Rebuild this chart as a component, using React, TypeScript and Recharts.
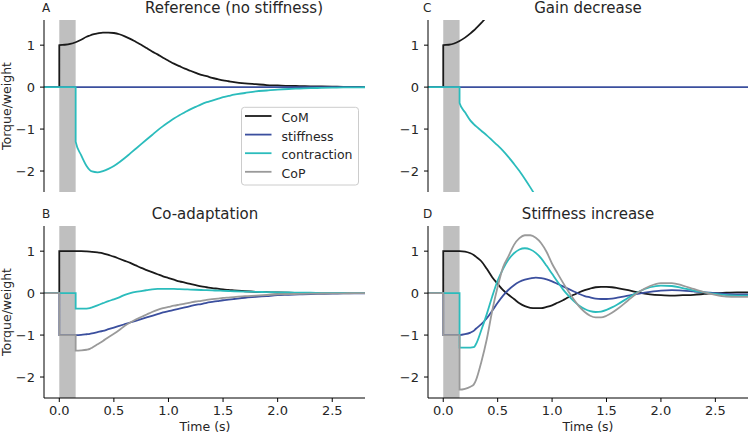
import { LineChart, Line, XAxis, YAxis, ReferenceArea } from "recharts";

// shared time grid (s); repeated 0 and 0.15 give the vertical steps
const T = [
  -0.14, 0, 0, 0.05, 0.1, 0.15, 0.15, 0.2, 0.25, 0.28, 0.3, 0.35, 0.4, 0.45, 0.5, 0.55, 0.6,
  0.65, 0.7, 0.75, 0.8, 0.85, 0.9, 0.95, 1.0, 1.05, 1.1, 1.15, 1.2, 1.25, 1.3, 1.35, 1.4, 1.45,
  1.5, 1.55, 1.6, 1.7, 1.8, 1.9, 2.0, 2.1, 2.2, 2.3, 2.4, 2.5, 2.6, 2.7, 2.8,
];

const ZERO = [
  0, 0, 0, 0, 0, 0, 0, 0, 0, 0, 0, 0, 0, 0, 0, 0, 0, 0, 0, 0, 0, 0, 0, 0, 0, 0, 0, 0, 0, 0, 0,
  0, 0, 0, 0, 0, 0, 0, 0, 0, 0, 0, 0, 0, 0, 0, 0, 0, 0,
];

// A - Reference (no stiffness)
const A_COM = [
  0, 0, 1.0, 1.01, 1.03, 1.07, 1.07, 1.13, 1.2, 1.23, 1.25, 1.28, 1.3, 1.3, 1.29, 1.26, 1.21,
  1.15, 1.08, 1.01, 0.93, 0.85, 0.78, 0.7, 0.63, 0.56, 0.5, 0.44, 0.39, 0.34, 0.29, 0.26, 0.22,
  0.19, 0.16, 0.14, 0.12, 0.09, 0.07, 0.05, 0.04, 0.03, 0.025, 0.02, 0.015, 0.01, 0.008, 0.006,
  0.005,
];
const A_CONTR = [
  0, 0, 0, 0, 0, 0, -1.3, -1.62, -1.88, -1.98, -2.01, -2.03, -2.0, -1.95, -1.88, -1.79, -1.69,
  -1.58, -1.47, -1.36, -1.25, -1.14, -1.03, -0.93, -0.84, -0.75, -0.67, -0.6, -0.53, -0.47,
  -0.41, -0.36, -0.32, -0.28, -0.24, -0.21, -0.18, -0.14, -0.1, -0.08, -0.06, -0.045, -0.035,
  -0.025, -0.018, -0.012, -0.008, -0.005, -0.003,
];

// B - Co-adaptation
const B_COM = [
  0, 0, 1.0, 1.0, 1.0, 1.0, 1.0, 1.0, 0.995, 0.99, 0.985, 0.97, 0.95, 0.91, 0.87, 0.82, 0.77,
  0.72, 0.66, 0.6, 0.55, 0.5, 0.45, 0.4, 0.36, 0.32, 0.28, 0.25, 0.22, 0.19, 0.16, 0.14, 0.12,
  0.105, 0.09, 0.075, 0.065, 0.045, 0.03, 0.022, 0.015, 0.01, 0.007, 0.005, 0.003, 0.002, 0.001,
  0, 0,
];
const B_STIFF = [
  0, 0, -1, -1, -1, -1, -1, -0.995, -0.98, -0.97, -0.96, -0.93, -0.9, -0.86, -0.82, -0.78, -0.74,
  -0.7, -0.66, -0.62, -0.58, -0.54, -0.5, -0.46, -0.43, -0.4, -0.37, -0.34, -0.31, -0.28, -0.26,
  -0.23, -0.21, -0.19, -0.17, -0.155, -0.14, -0.11, -0.09, -0.07, -0.05, -0.04, -0.03, -0.022,
  -0.016, -0.012, -0.008, -0.005, -0.003,
];
const B_CONTR = [
  0, 0, 0, 0, 0, 0, -0.37, -0.37, -0.37, -0.36, -0.34, -0.29, -0.24, -0.19, -0.15, -0.1, -0.04,
  0.0, 0.03, 0.05, 0.07, 0.09, 0.1, 0.1, 0.1, 0.1, 0.095, 0.09, 0.085, 0.08, 0.075, 0.07, 0.065,
  0.06, 0.055, 0.05, 0.045, 0.037, 0.03, 0.025, 0.02, 0.015, 0.012, 0.009, 0.007, 0.005, 0.004,
  0.003, 0.002,
];
const B_COP = [
  0, 0, -1, -1, -1, -1, -1.37, -1.365, -1.35, -1.33, -1.3, -1.22, -1.14, -1.05, -0.97, -0.88,
  -0.78, -0.7, -0.63, -0.57, -0.51, -0.45, -0.4, -0.36, -0.33, -0.3, -0.275, -0.25, -0.225, -0.2,
  -0.185, -0.16, -0.145, -0.13, -0.115, -0.105, -0.095, -0.073, -0.06, -0.045, -0.03, -0.025,
  -0.018, -0.013, -0.009, -0.007, -0.004, -0.002, -0.001,
];

// C - Gain decrease (runs off the axes)
const C_COM = [0, 0, 1.0, 1.01, 1.04, 1.1, 1.1, 1.18, 1.28, 1.35, 1.4, 1.53, 1.68, 1.85];
const C_CONTR = [
  0, 0, 0, 0, 0, 0, -0.38, -0.6, -0.8, -0.88, -0.93, -1.04, -1.15, -1.27, -1.39, -1.52, -1.67,
  -1.83, -2.0, -2.19, -2.39, -2.6, -2.82,
];

// D - Stiffness increase
const D_COM = [
  0, 0, 1, 1, 1, 1, 1, 0.99, 0.95, 0.91, 0.87, 0.76, 0.58, 0.38, 0.22, 0.07, -0.04, -0.14, -0.24,
  -0.31, -0.35, -0.36, -0.36, -0.33, -0.29, -0.23, -0.17, -0.1, -0.04, 0.02, 0.07, 0.11, 0.14,
  0.15, 0.15, 0.14, 0.12, 0.07, 0.01, -0.03, -0.05, -0.06, -0.05, -0.04, -0.02, 0.0, 0.01, 0.02,
  0.02,
];
const D_STIFF = [
  0, 0, -1, -1, -1, -1, -1, -0.98, -0.94, -0.9, -0.85, -0.74, -0.6, -0.42, -0.23, -0.06, 0.08,
  0.19, 0.27, 0.32, 0.35, 0.37, 0.36, 0.33, 0.28, 0.22, 0.16, 0.1, 0.04, -0.02, -0.07, -0.1, -0.13,
  -0.14, -0.14, -0.13, -0.11, -0.06, -0.01, 0.03, 0.06, 0.07, 0.06, 0.04, 0.02, 0.0, -0.02, -0.03,
  -0.03,
];
const D_CONTR = [
  0, 0, 0, 0, 0, 0, -1.3, -1.3, -1.3, -1.29, -1.22, -0.88, -0.5, -0.08, 0.3, 0.58, 0.8, 0.95,
  1.04, 1.07, 1.04, 0.96, 0.83, 0.65, 0.46, 0.27, 0.09, -0.06, -0.19, -0.3, -0.38, -0.43, -0.45,
  -0.44, -0.4, -0.34, -0.27, -0.11, 0.04, 0.14, 0.18, 0.17, 0.12, 0.06, 0.02, -0.02, -0.05, -0.06,
  -0.06,
];
const D_COP = [
  0, 0, -1, -1, -1, -1, -2.3, -2.28, -2.23, -2.18, -2.08, -1.64, -1.1, -0.42, 0.15, 0.62, 0.88,
  1.15, 1.31, 1.38, 1.38, 1.32, 1.19, 0.98, 0.7, 0.47, 0.25, 0.04, -0.15, -0.32, -0.45, -0.54,
  -0.58, -0.58, -0.54, -0.47, -0.38, -0.17, 0.03, 0.17, 0.24, 0.24, 0.18, 0.1, 0.02, -0.04, -0.08,
  -0.09, -0.09,
];

const X_TICKS = [0, 0.5, 1, 1.5, 2, 2.5];
const Y_TICKS = [-2, -1, 0, 1];

const COLORS: Record<string, string> = {
  com: "#1a1a1a",
  stiff: "#3b4f9e",
  contr: "#2bbcbc",
  cop: "#9a9a9a",
};

const LEGEND = [
  { key: "com", label: "CoM" },
  { key: "stiff", label: "stiffness" },
  { key: "contr", label: "contraction" },
  { key: "cop", label: "CoP" },
];

const FONT = "'DejaVu Sans', sans-serif";
const INK = "#262626";

function buildRows(series: Record<string, number[]>) {
  return T.map((t, i) => {
    const row: Record<string, number | null> = { t };
    for (const k of Object.keys(series)) row[k] = series[k][i] ?? null;
    return row;
  });
}

const fmtY = (v: number) => String(v).replace("-", "\u2212");

interface PanelProps {
  series: Record<string, number[]>;
  left: number;
  top: number;
  width: number;
  height: number;
  right: number;
  showX: boolean;
}

function Panel({ series, left, top, width, height, right, showX }: PanelProps) {
  const data = buildRows(series);
  return (
    <div style={{ position: "absolute", left, top }}>
      <LineChart
        width={width}
        height={height}
        data={data}
        margin={{ top: 20, right, bottom: showX ? 0 : 8, left: 4 }}
      >
        <ReferenceArea x1={0} x2={0.15} fill="#bfbfbf" fillOpacity={1} stroke="none" />
        <XAxis
          type="number"
          dataKey="t"
          domain={[-0.14, 2.8]}
          allowDataOverflow
          ticks={X_TICKS}
          tickFormatter={(v: number) => v.toFixed(1)}
          height={showX ? 37 : 0}
          tick={showX ? { fill: INK, fontSize: 13 } : false}
          tickLine={showX ? { stroke: "#000" } : false}
          axisLine={{ stroke: "#000" }}
          tickSize={4}
          tickMargin={4}
        />
        <YAxis
          type="number"
          domain={[-2.5, 1.6]}
          allowDataOverflow
          ticks={Y_TICKS}
          tickFormatter={fmtY}
          width={40}
          tick={{ fill: INK, fontSize: 13 }}
          tickLine={{ stroke: "#000" }}
          axisLine={{ stroke: "#000" }}
          tickSize={4}
          tickMargin={5}
        />
        {Object.keys(series).map((k) => (
          <Line
            key={k}
            dataKey={k}
            type="monotone"
            stroke={COLORS[k]}
            strokeWidth={1.8}
            dot={false}
            activeDot={false}
            isAnimationActive={false}
          />
        ))}
      </LineChart>
    </div>
  );
}

export default function App() {
  const legendRows = [116, 134.6, 153.2, 171.8];
  return (
    <div
      style={{
        position: "absolute",
        left: 0,
        top: 0,
        width: 749,
        height: 435,
        overflow: "hidden",
        background: "#fff",
        fontFamily: FONT,
      }}
    >
      <Panel
        series={{ com: A_COM, stiff: ZERO, contr: A_CONTR }}
        left={0}
        top={0}
        width={375}
        height={200}
        right={10}
        showX={false}
      />
      <Panel
        series={{ com: B_COM, stiff: B_STIFF, contr: B_CONTR, cop: B_COP }}
        left={0}
        top={206}
        width={375}
        height={229}
        right={10}
        showX
      />
      <Panel
        series={{ com: C_COM, stiff: ZERO, contr: C_CONTR }}
        left={384}
        top={0}
        width={365}
        height={200}
        right={1}
        showX={false}
      />
      <Panel
        series={{ com: D_COM, stiff: D_STIFF, contr: D_CONTR, cop: D_COP }}
        left={384}
        top={206}
        width={365}
        height={229}
        right={1}
        showX
      />

      <svg
        width={749}
        height={435}
        style={{ position: "absolute", left: 0, top: 0, pointerEvents: "none" }}
        fontFamily={FONT}
        fill={INK}
      >
        <text x={42} y={11.5} fontSize={12}>A</text>
        <text x={42} y={217.5} fontSize={12}>B</text>
        <text x={423} y={11.5} fontSize={12}>C</text>
        <text x={423} y={217.5} fontSize={12}>D</text>

        <text x={234} y={12.7} fontSize={15} textAnchor="middle">Reference (no stiffness)</text>
        <text x={205} y={218.7} fontSize={15} textAnchor="middle">Co-adaptation</text>
        <text x={588} y={12.7} fontSize={15} textAnchor="middle">Gain decrease</text>
        <text x={588} y={218.7} fontSize={15} textAnchor="middle">Stiffness increase</text>

        <text x={11} y={106} fontSize={12.5} textAnchor="middle" transform="rotate(-90 11 106)">
          Torque/weight
        </text>
        <text x={11} y={312} fontSize={12.5} textAnchor="middle" transform="rotate(-90 11 312)">
          Torque/weight
        </text>
        <text x={205} y={431} fontSize={12.5} textAnchor="middle">Time (s)</text>
        <text x={588} y={431} fontSize={12.5} textAnchor="middle">Time (s)</text>

        <rect x={241.5} y={107.3} width={117} height={77.7} rx={3} fill="#fff" fillOpacity={0.85} stroke="#cccccc" />
        {LEGEND.map((item, i) => (
          <g key={item.key}>
            <line x1={245} x2={271.5} y1={legendRows[i]} y2={legendRows[i]} stroke={COLORS[item.key]} strokeWidth={1.8} />
            <text x={281.5} y={legendRows[i] + 6} fontSize={12.5}>{item.label}</text>
          </g>
        ))}
      </svg>
    </div>
  );
}
